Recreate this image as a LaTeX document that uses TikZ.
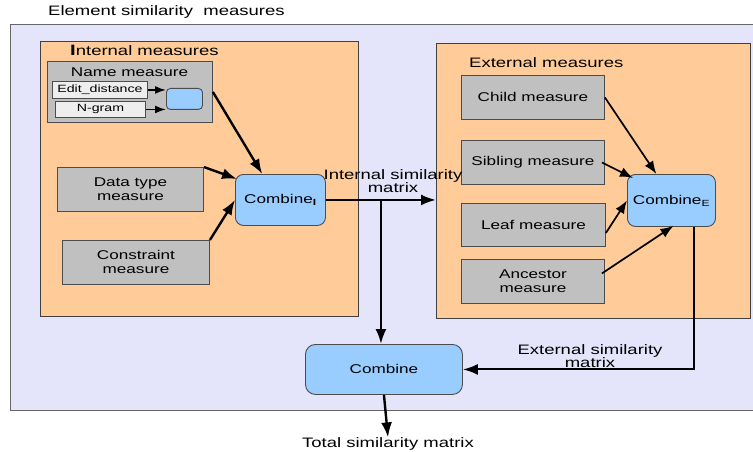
\documentclass[tikz,border=0pt]{standalone}
\usepackage{fontspec}
\setmainfont{Liberation Sans}[FakeStretch=1.35]
\usetikzlibrary{arrows.meta,calc}
\definecolor{lav}{RGB}{228,228,250}
\definecolor{peach}{RGB}{255,204,153}
\definecolor{gbox}{RGB}{192,192,192}
\definecolor{lbox}{RGB}{238,238,238}
\definecolor{bbox}{RGB}{153,204,255}
\newcommand{\fbig}{\fontsize{13.7}{14}\selectfont}
\newcommand{\fmid}{\fontsize{12.7}{14}\selectfont}
\newcommand{\fsml}{\fontsize{10.5}{12}\selectfont}
\begin{document}
\begin{tikzpicture}[x=1pt,y=-1pt,
  container/.style={draw=black!75,line width=0.9pt,anchor=north west,inner sep=0pt},
  measbox/.style={draw=black!70,line width=0.9pt,fill=gbox,anchor=north west,inner sep=0pt,align=center,font=\fmid},
  smallbox/.style={draw=black!70,line width=0.9pt,fill=lbox,anchor=north west,inner sep=0pt,font=\fsml},
  combbox/.style={draw=black!70,line width=0.9pt,fill=bbox,rounded corners=8pt,anchor=north west,inner sep=0pt,font=\fmid},
  lbl/.style={inner sep=0pt,font=\fbig,align=center},
  arr/.style={-{Latex[length=15pt,width=11pt]},line width=2.4pt},
  tarr/.style={-{Latex[length=13pt,width=10pt]},line width=1.7pt},
  sarr/.style={-{Latex[length=11pt,width=8pt]},line width=1.6pt}]
\clip (0,0) rectangle (753,452);
\fill[white] (0,0) rectangle (753,452);
% outer container
\node[container,draw=black!60,fill=lav,minimum width=760pt,minimum height=386pt] (outer) at (10,24) {};
\node[lbl,anchor=west] (title) at (48,12) {Element similarity\ \ measures};
% internal container
\node[container,fill=peach,minimum width=318pt,minimum height=275pt] (int) at (40,41) {};
\node[lbl,anchor=west] (intt) at (70,50) {{\fontsize{15}{15}\selectfont\bfseries I}nternal measures};
% name measure
\node[measbox,minimum width=165pt,minimum height=61pt] (nm) at (47,61) {};
\node[lbl,font=\fmid] (nmt) at (129.5,72) {Name measure};
\node[smallbox,minimum width=95pt,minimum height=17pt] (ed) at (52,81) {Edit\_distance};
\node[smallbox,minimum width=90pt,minimum height=16pt] (ng) at (55,101) {N-gram};
\node[combbox,rounded corners=4pt,minimum width=36pt,minimum height=21pt] (nb) at (166,88) {};
\draw[sarr] (ed.east) -- (ed.east -| nb.west);
\draw[sarr] (ng.east) -- (ng.east -| nb.west);
% data type, constraint
\node[measbox,minimum width=146pt,minimum height=44pt] (dt) at (57,167) {Data type\\measure};
\node[measbox,minimum width=147pt,minimum height=44pt] (cm) at (62,240) {Constraint\\measure};
\node[combbox,minimum width=90pt,minimum height=51pt] (ci) at (235,174) {Combine\textsubscript{\bfseries I}};
\draw[arr] (nm.east) -- ($(ci.north west)!0.3!(ci.north east)$);
\draw[arr] (dt.north east) -- ($(ci.north west)+(2,5)$);
\draw[arr] (cm.north east) -- (ci.west);
% external container
\node[container,fill=peach,minimum width=314pt,minimum height=275pt] (ext) at (436,43) {};
\node[lbl,anchor=west] (extt) at (469,63) {External measures};
\node[measbox,minimum width=143pt,minimum height=44pt] (ch) at (461,75) {Child measure};
\node[measbox,minimum width=143pt,minimum height=44pt] (sb) at (461,140) {Sibling measure};
\node[measbox,minimum width=144pt,minimum height=43pt] (lf) at (461,203) {Leaf measure};
\node[measbox,minimum width=143pt,minimum height=44pt] (an) at (461,259) {Ancestor\\measure};
\node[combbox,minimum width=88pt,minimum height=52pt] (ce) at (627,174) {Combine\textsubscript{E}};
\draw[tarr] (ch.east) -- ($(ce.north west)!0.33!(ce.north east)$);
\draw[tarr] ($(sb.east)+(-3,0)$) -- ($(ce.north west)+(6,4)$);
\draw[tarr] ($(lf.east)+(0,8)$) -- (ce.west);
\draw[tarr] ($(an.east)+(-3,-8)$) -- ($(ce.south)+(2,-1)$);
% internal similarity matrix
\draw[arr] (ci.east) -- (ci.east -| ext.west);
\node[lbl] (ism) at (393,181) {Internal similarity\\[-1.5pt]matrix};
% combine
\node[combbox,rounded corners=10pt,minimum width=157pt,minimum height=50pt] (comb) at (305,344) {Combine};
\draw[arr] ($(comb.north |- ci.east)+(-3,0)$) -- ($(comb.north)+(-3,0)$);
\draw[arr,line width=2pt] ($(ce.south)!0.5!(ce.south east)$) |- (comb.east);
\node[lbl] (esm) at (590,356) {External similarity\\[-1.5pt]matrix};
% total
\node[lbl] (tot) at (388,444) {Total similarity matrix};
\draw[arr] (comb.south) -- (tot.north);
\end{tikzpicture}
\end{document}
